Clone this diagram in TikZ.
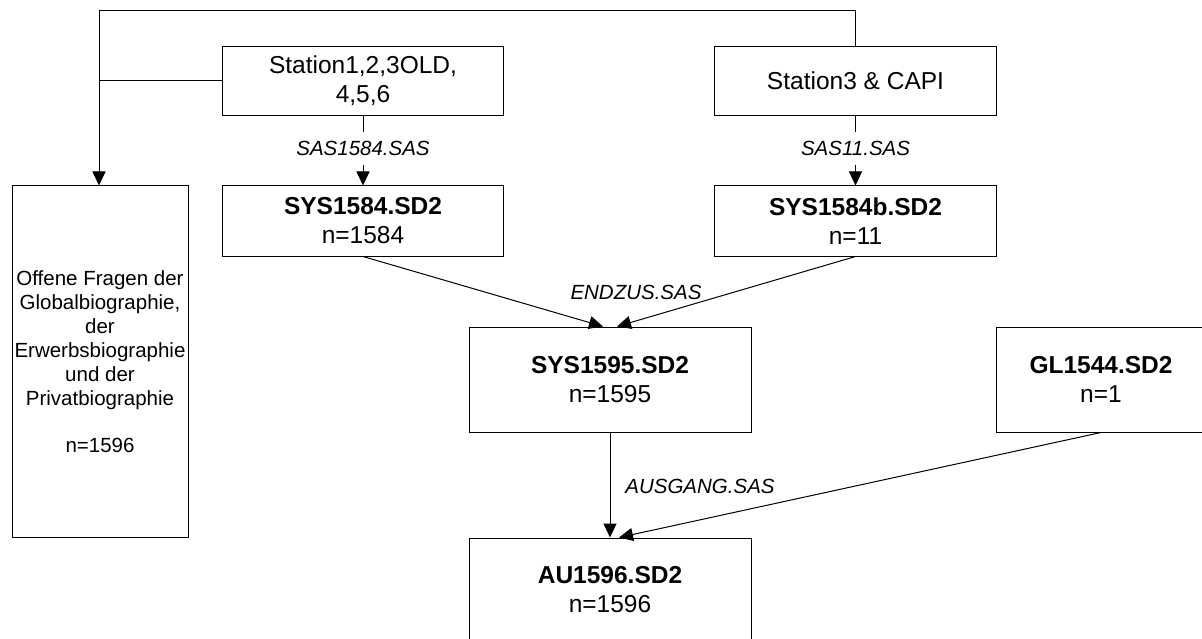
\documentclass[tikz,border=0pt]{standalone}
\usepackage{fontspec}
\setmainfont{Liberation Sans}
\usetikzlibrary{arrows.meta}
\begin{document}
\begin{tikzpicture}[x=1pt,y=-1pt,
  box/.style={draw, line width=1pt, align=center, inner sep=0pt,
    font=\fontsize{24.5}{29}\selectfont},
  tall/.style={box, font=\fontsize{20.5}{24}\selectfont},
  lbl/.style={fill=white, inner xsep=2pt, inner ysep=9pt, font=\fontsize{20.5}{24}\selectfont\itshape},
  free/.style={inner sep=0pt, font=\fontsize{20.5}{24}\selectfont\itshape},
  arr/.style={line width=1pt, -{Triangle[length=14pt,width=13pt]}},
  ln/.style={line width=1pt}]
\useasboundingbox (0,0) rectangle (1202,639);
\node[box, minimum width=281pt, minimum height=69pt] (s1) at (363,81) {Station1,2,3OLD,\\4,5,6};
\node[box, minimum width=282pt, minimum height=69pt] (s3) at (855.5,81) {Station3 \& CAPI};
\node[box, minimum width=281pt, minimum height=70pt] (y1) at (363,221) {\textbf{SYS1584.SD2}\\n=1584};
\node[box, minimum width=282pt, minimum height=70pt] (y2) at (855.5,221) {\textbf{SYS1584b.SD2}\\n=11};
\node[tall, minimum width=176pt, minimum height=351pt] (lf) at (100,361.5) {Offene Fragen der\\Globalbiographie,\\der\\Erwerbsbiographie\\und der\\Privatbiographie\\[23pt]n=1596};
\node[box, minimum width=282pt, minimum height=105pt] (y3) at (610,379.5) {\textbf{SYS1595.SD2}\\n=1595};
\node[box, minimum width=210pt, minimum height=105pt] (gl) at (1101,379.5) {\textbf{GL1544.SD2}\\n=1};
\node[box, minimum width=282pt, minimum height=104pt] (au) at (610,590) {\textbf{AU1596.SD2}\\n=1596};
\coordinate (tl) at (99,11);
\coordinate (tr) at (855.5,11);
\draw[arr] (s3.north) -- (tr) -- (tl) -- (tl |- lf.north);
\draw[ln] (s1.west) -- (s1.west -| tl);
\draw[arr] (s1.south) -- (y1.north);
\node[lbl] (l1) at (363,148.5) {SAS1584.SAS};
\draw[arr] (s3.south) -- (y2.north);
\node[lbl] (l2) at (855.5,148.5) {SAS11.SAS};
\draw[arr] (y1.south) -- ([xshift=-7pt]y3.north);
\draw[arr] (y2.south) -- ([xshift=7pt]y3.north);
\node[free] (l3) at (636,292) {ENDZUS.SAS};
\draw[arr] (y3.south) -- (au.north);
\node[free] (l4) at (700,486) {AUSGANG.SAS};
\draw[arr] (gl.south) -- ([xshift=9pt]au.north);
\end{tikzpicture}
\end{document}
